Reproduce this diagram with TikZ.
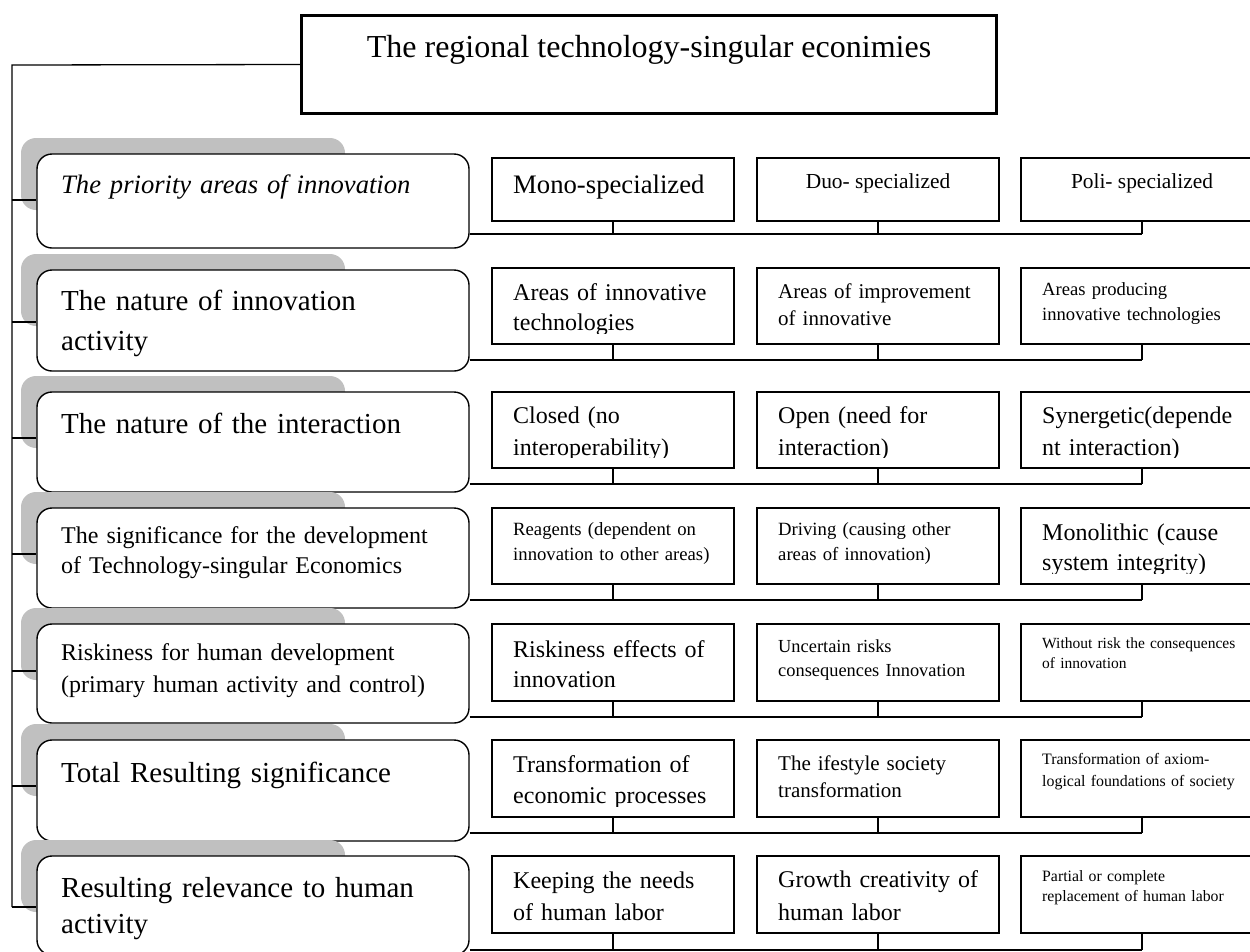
\documentclass[tikz,border=0pt]{standalone}
\usepackage{fontspec}
\setmainfont{Liberation Serif}
\definecolor{shadegray}{RGB}{192,192,192}
\newcommand\fsz[2]{\fontsize{#1}{#2}\selectfont}
\tikzset{
  conn/.style={line width=1.3pt},
  rowbox/.style={draw, line width=1.4pt, rounded corners=15pt, fill=white, inner sep=0pt},
  cbox/.style={draw, line width=1.3pt, fill=white, inner sep=0pt},
  ctext/.style={inner sep=0pt, text width=225pt, align=left},
  ltext/.style={inner sep=0pt, text width=400pt, align=left},
}
% row: #1 index, #2 top, #3 bottom, #4 branch y, #5 bus y
\newcommand\mkrow[5]{%
  \fill[shadegray, rounded corners=15pt] (21,#2-16) rectangle (345,#2+56);
  \node[rowbox, minimum width=432pt, minimum height={#3-#2}] (w#1) at (253,{(#2+#3)/2}) {};
  \coordinate (b#1) at (12,#4);
  \draw[conn] (b#1) -- (b#1 -| w#1.west);
  \coordinate (l#1) at (1142,#5);
  \draw[conn] (w#1.east |- l#1) -- (l#1);
}
% right box: #1 name, #2 left x, #3 top, #4 bottom, #5 font, #6 baseline, #7 text
\newcommand\rbx[7]{%
  \node[cbox, minimum width=242pt, minimum height={#4-#3}] (#1) at ({#2+121},{(#3+#4)/2}) {};
  \begin{scope}
    \clip (#2,#3) rectangle ({#2+242},{#4-11});
    \node[ctext, font=#5, anchor=base west] (#1t) at ({#2+21},#6) {#7};
  \end{scope}
}
\newcommand\ticks[4]{%
  \draw[conn] (#2.south) -- (#2.south |- l#1);
  \draw[conn] (#3.south) -- (#3.south |- l#1);
  \draw[conn] (#4.south) -- (#4.south |- l#1);
}
\begin{document}
\begin{tikzpicture}[x=1pt,y=-1pt]
\useasboundingbox (0,0) rectangle (1250,951);
\clip (0,0) rectangle (1250,951);

% title
\node[draw, line width=3pt, minimum width=695pt, minimum height=98pt, inner sep=0pt, fill=white] (title) at (649,64.5) {};
\node[inner sep=0pt, anchor=base, font=\fsz{32}{38}] (titletext) at (649,57) {The regional technology-singular econimies};
\coordinate (spinetop) at (12,65);
\coordinate (spinebot) at (12,907);
\draw[conn] (title.west) -- (spinetop) -- (spinebot);

% rows
\mkrow{1}{154}{248}{200}{234}
\mkrow{2}{270}{371}{322}{360}
\mkrow{3}{392}{492}{438}{484}
\mkrow{4}{508}{608}{554}{600}
\mkrow{5}{624}{723}{671}{717}
\mkrow{6}{740}{841}{786}{833}
\mkrow{7}{856}{955}{907}{950}

% left texts
\node[ltext, font=\fsz{26.6}{32}\itshape, anchor=base west] (t1) at (61,193) {The priority areas of innovation};
\node[ltext, font=\fsz{29}{40}, anchor=base west] (t2) at (61,310) {The nature of innovation\\activity};
\node[ltext, font=\fsz{29}{36}, anchor=base west] (t3) at (61,433) {The nature of the interaction};
\node[ltext, font=\fsz{24}{30}, anchor=base west] (t4) at (61,543) {The significance for the development\\of Technology-singular Economics};
\node[ltext, font=\fsz{24}{32}, anchor=base west] (t5) at (61,660) {Riskiness for human development\\(primary human activity and control)};
\node[ltext, font=\fsz{29}{36}, anchor=base west] (t6) at (61,782) {Total Resulting significance};
\node[ltext, font=\fsz{29}{36}, anchor=base west] (t7) at (61,897) {Resulting relevance to human\\activity};

% row 1 boxes
\rbx{c11}{492}{158}{221}{\fsz{26.7}{32}}{193}{Mono-specialized}
\node[cbox, minimum width=242pt, minimum height=63pt] (c12) at (878,189.5) {};
\node[inner sep=0pt, anchor=base, font=\fsz{21.4}{26}] (c12t) at (878,188) {Duo-\ specialized};
\node[cbox, minimum width=242pt, minimum height=63pt] (c13) at (1142,189.5) {};
\node[inner sep=0pt, anchor=base, font=\fsz{21.4}{26}] (c13t) at (1142,188) {Poli-\ specialized};
\ticks{1}{c11}{c12}{c13}

% row 2
\rbx{c21}{492}{268}{344}{\fsz{24}{30}}{300}{Areas of innovative\\technologies}
\rbx{c22}{757}{268}{344}{\fsz{21}{27}}{298}{Areas of improvement\\of innovative}
\rbx{c23}{1021}{268}{344}{\fsz{18.6}{25}}{295}{Areas producing\\innovative technologies}
\ticks{2}{c21}{c22}{c23}

% row 3
\rbx{c31}{492}{392}{468}{\fsz{24}{32}}{423}{Closed (no\\interoperability)}
\rbx{c32}{757}{392}{468}{\fsz{24}{32}}{423}{Open (need for\\interaction)}
\rbx{c33}{1021}{392}{468}{\fsz{24}{32}}{423}{Synergetic(depende\\nt interaction)}
\ticks{3}{c31}{c32}{c33}

% row 4
\rbx{c41}{492}{508}{584}{\fsz{18.7}{25}}{535}{Reagents (dependent on\\innovation to other areas)}
\rbx{c42}{757}{508}{584}{\fsz{18.7}{25}}{535}{Driving (causing other\\areas of innovation)}
\rbx{c43}{1021}{508}{584}{\fsz{24}{30}}{540}{Monolithic (cause\\system integrity)}
\ticks{4}{c41}{c42}{c43}

% row 5
\rbx{c51}{492}{624}{701}{\fsz{24}{30}}{657}{Riskiness effects of\\innovation}
\rbx{c52}{757}{624}{701}{\fsz{18.4}{24}}{652}{Uncertain risks\\consequences Innovation}
\rbx{c53}{1021}{624}{701}{\fsz{15.5}{20}}{648}{Without risk the consequences\\of innovation}
\ticks{5}{c51}{c52}{c53}

% row 6
\rbx{c61}{492}{740}{817}{\fsz{24}{31}}{772}{Transformation of\\economic processes}
\rbx{c62}{757}{740}{817}{\fsz{21}{27}}{770}{The ifestyle society\\transformation}
\rbx{c63}{1021}{740}{817}{\fsz{15.9}{22}}{764}{Transformation of axiom-\\logical foundations of society}
\ticks{6}{c61}{c62}{c63}

% row 7
\rbx{c71}{492}{856}{933}{\fsz{24}{32}}{888}{Keeping the needs\\of human labor}
\rbx{c72}{757}{856}{933}{\fsz{24}{33}}{887}{Growth creativity of\\human labor}
\rbx{c73}{1021}{856}{933}{\fsz{15.8}{20}}{881}{Partial or complete\\replacement of human labor}
\ticks{7}{c71}{c72}{c73}
\end{tikzpicture}
\end{document}
